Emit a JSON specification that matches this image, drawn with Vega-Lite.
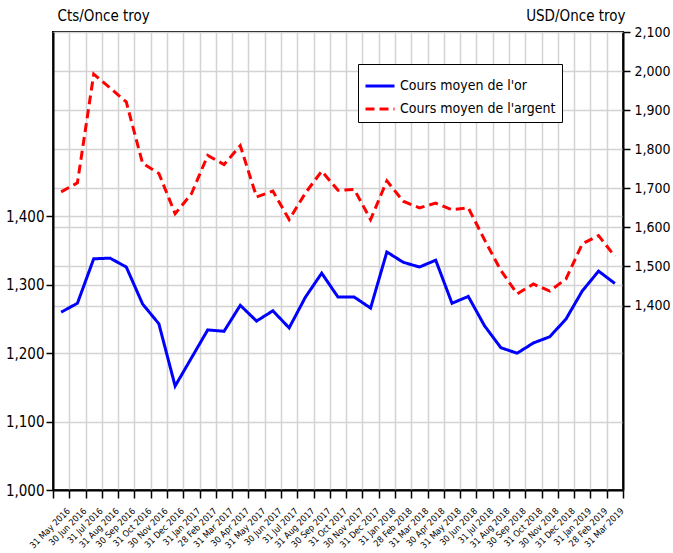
{
  "$schema": "https://vega.github.io/schema/vega-lite/v6.json",
  "width": 570,
  "height": 458,
  "autosize": {"type": "none"},
  "padding": {"left": 53, "top": 32, "right": 50, "bottom": 63},
  "background": "white",
  "config": {
    "font": "'DejaVu Sans Condensed', 'Liberation Sans'",
    "view": {"stroke": "black", "strokeWidth": 2},
    "axis": {
      "domainColor": "black",
      "domainWidth": 2,
      "tickColor": "black",
      "tickWidth": 1.5,
      "gridColor": "#d3d3d3",
      "gridWidth": 1.5,
      "labelColor": "black",
      "titleColor": "black",
      "labelFont": "'DejaVu Sans Condensed', 'Liberation Sans'",
      "titleFont": "'DejaVu Sans Condensed', 'Liberation Sans'"
    },
    "legend": {"labelFont": "'DejaVu Sans Condensed', 'Liberation Sans'"}
  },
  "data": {
    "values": [
      {"date": "31 May 2016", "serie": "Cours moyen de l'or", "value": 1260},
      {"date": "30 Jun 2016", "serie": "Cours moyen de l'or", "value": 1273},
      {"date": "31 Jul 2016", "serie": "Cours moyen de l'or", "value": 1338},
      {"date": "31 Aug 2016", "serie": "Cours moyen de l'or", "value": 1339},
      {"date": "30 Sep 2016", "serie": "Cours moyen de l'or", "value": 1326},
      {"date": "31 Oct 2016", "serie": "Cours moyen de l'or", "value": 1272},
      {"date": "30 Nov 2016", "serie": "Cours moyen de l'or", "value": 1243},
      {"date": "31 Dec 2016", "serie": "Cours moyen de l'or", "value": 1152},
      {"date": "31 Jan 2017", "serie": "Cours moyen de l'or", "value": 1193},
      {"date": "28 Feb 2017", "serie": "Cours moyen de l'or", "value": 1234},
      {"date": "31 Mar 2017", "serie": "Cours moyen de l'or", "value": 1232},
      {"date": "30 Apr 2017", "serie": "Cours moyen de l'or", "value": 1270},
      {"date": "31 May 2017", "serie": "Cours moyen de l'or", "value": 1247},
      {"date": "30 Jun 2017", "serie": "Cours moyen de l'or", "value": 1262},
      {"date": "31 Jul 2017", "serie": "Cours moyen de l'or", "value": 1237},
      {"date": "31 Aug 2017", "serie": "Cours moyen de l'or", "value": 1282},
      {"date": "30 Sep 2017", "serie": "Cours moyen de l'or", "value": 1317},
      {"date": "31 Oct 2017", "serie": "Cours moyen de l'or", "value": 1282},
      {"date": "30 Nov 2017", "serie": "Cours moyen de l'or", "value": 1282},
      {"date": "31 Dec 2017", "serie": "Cours moyen de l'or", "value": 1266},
      {"date": "31 Jan 2018", "serie": "Cours moyen de l'or", "value": 1348},
      {"date": "28 Feb 2018", "serie": "Cours moyen de l'or", "value": 1333},
      {"date": "31 Mar 2018", "serie": "Cours moyen de l'or", "value": 1326},
      {"date": "30 Apr 2018", "serie": "Cours moyen de l'or", "value": 1336},
      {"date": "31 May 2018", "serie": "Cours moyen de l'or", "value": 1273},
      {"date": "30 Jun 2018", "serie": "Cours moyen de l'or", "value": 1283},
      {"date": "31 Jul 2018", "serie": "Cours moyen de l'or", "value": 1240},
      {"date": "31 Aug 2018", "serie": "Cours moyen de l'or", "value": 1208},
      {"date": "30 Sep 2018", "serie": "Cours moyen de l'or", "value": 1200},
      {"date": "31 Oct 2018", "serie": "Cours moyen de l'or", "value": 1215},
      {"date": "30 Nov 2018", "serie": "Cours moyen de l'or", "value": 1224},
      {"date": "31 Dec 2018", "serie": "Cours moyen de l'or", "value": 1250},
      {"date": "31 Jan 2019", "serie": "Cours moyen de l'or", "value": 1291},
      {"date": "28 Feb 2019", "serie": "Cours moyen de l'or", "value": 1320},
      {"date": "31 Mar 2019", "serie": "Cours moyen de l'or", "value": 1302},
      {"date": "31 May 2016", "serie": "Cours moyen de l'argent", "value": 1691},
      {"date": "30 Jun 2016", "serie": "Cours moyen de l'argent", "value": 1714},
      {"date": "31 Jul 2016", "serie": "Cours moyen de l'argent", "value": 1992},
      {"date": "31 Aug 2016", "serie": "Cours moyen de l'argent", "value": 1957},
      {"date": "30 Sep 2016", "serie": "Cours moyen de l'argent", "value": 1921},
      {"date": "31 Oct 2016", "serie": "Cours moyen de l'argent", "value": 1764},
      {"date": "30 Nov 2016", "serie": "Cours moyen de l'argent", "value": 1738},
      {"date": "31 Dec 2016", "serie": "Cours moyen de l'argent", "value": 1635},
      {"date": "31 Jan 2017", "serie": "Cours moyen de l'argent", "value": 1686},
      {"date": "28 Feb 2017", "serie": "Cours moyen de l'argent", "value": 1784},
      {"date": "31 Mar 2017", "serie": "Cours moyen de l'argent", "value": 1761},
      {"date": "30 Apr 2017", "serie": "Cours moyen de l'argent", "value": 1809},
      {"date": "31 May 2017", "serie": "Cours moyen de l'argent", "value": 1678},
      {"date": "30 Jun 2017", "serie": "Cours moyen de l'argent", "value": 1693},
      {"date": "31 Jul 2017", "serie": "Cours moyen de l'argent", "value": 1620},
      {"date": "31 Aug 2017", "serie": "Cours moyen de l'argent", "value": 1688},
      {"date": "30 Sep 2017", "serie": "Cours moyen de l'argent", "value": 1744},
      {"date": "31 Oct 2017", "serie": "Cours moyen de l'argent", "value": 1695},
      {"date": "30 Nov 2017", "serie": "Cours moyen de l'argent", "value": 1697},
      {"date": "31 Dec 2017", "serie": "Cours moyen de l'argent", "value": 1620},
      {"date": "31 Jan 2018", "serie": "Cours moyen de l'argent", "value": 1719},
      {"date": "28 Feb 2018", "serie": "Cours moyen de l'argent", "value": 1667},
      {"date": "31 Mar 2018", "serie": "Cours moyen de l'argent", "value": 1650},
      {"date": "30 Apr 2018", "serie": "Cours moyen de l'argent", "value": 1662},
      {"date": "31 May 2018", "serie": "Cours moyen de l'argent", "value": 1645},
      {"date": "30 Jun 2018", "serie": "Cours moyen de l'argent", "value": 1650},
      {"date": "31 Jul 2018", "serie": "Cours moyen de l'argent", "value": 1568},
      {"date": "31 Aug 2018", "serie": "Cours moyen de l'argent", "value": 1490},
      {"date": "30 Sep 2018", "serie": "Cours moyen de l'argent", "value": 1430},
      {"date": "31 Oct 2018", "serie": "Cours moyen de l'argent", "value": 1455},
      {"date": "30 Nov 2018", "serie": "Cours moyen de l'argent", "value": 1437},
      {"date": "31 Dec 2018", "serie": "Cours moyen de l'argent", "value": 1468},
      {"date": "31 Jan 2019", "serie": "Cours moyen de l'argent", "value": 1558},
      {"date": "28 Feb 2019", "serie": "Cours moyen de l'argent", "value": 1579},
      {"date": "31 Mar 2019", "serie": "Cours moyen de l'argent", "value": 1526}
    ]
  },
  "encoding": {
    "x": {
      "field": "date",
      "type": "nominal",
      "sort": null,
      "scale": {"paddingInner": 0, "paddingOuter": 0},
      "axis": {
        "title": null,
        "labelAngle": -45,
        "labelAlign": "right",
        "labelBaseline": "middle",
        "labelFontSize": 9,
        "labelOffset": 7,
        "labelPadding": 11,
        "tickBand": "extent",
        "tickSize": 8,
        "grid": true,
        "domain": true
      }
    },
    "color": {
      "field": "serie",
      "type": "nominal",
      "scale": {
        "domain": ["Cours moyen de l'or", "Cours moyen de l'argent"],
        "range": ["#0000ff", "#ff0000"]
      },
      "legend": {
        "title": null,
        "orient": "none",
        "legendX": 305,
        "legendY": 32,
        "fillColor": "white",
        "strokeColor": "black",
        "padding": 6,
        "labelFontSize": 14,
        "labelLimit": 300,
        "labelColor": "black",
        "symbolType": "stroke",
        "symbolSize": 841,
        "symbolStrokeWidth": 3,
        "rowPadding": -9,
        "labelOffset": 4
      }
    },
    "strokeDash": {
      "field": "serie",
      "type": "nominal",
      "scale": {
        "domain": ["Cours moyen de l'or", "Cours moyen de l'argent"],
        "range": [[1, 0], [9, 5]]
      },
      "legend": {
        "title": null,
        "orient": "none",
        "legendX": 305,
        "legendY": 32,
        "fillColor": "white",
        "strokeColor": "black",
        "padding": 6,
        "labelFontSize": 14,
        "labelLimit": 300,
        "labelColor": "black",
        "symbolType": "stroke",
        "symbolSize": 841,
        "symbolStrokeWidth": 3,
        "rowPadding": -9,
        "labelOffset": 4
      }
    }
  },
  "layer": [
    {
      "transform": [{"filter": {"field": "serie", "equal": "Cours moyen de l'or"}}],
      "mark": {"type": "line", "strokeWidth": 3},
      "encoding": {
        "y": {
          "field": "value",
          "type": "quantitative",
          "scale": {"domain": [1000, 1669.6], "nice": false, "zero": false},
          "axis": {
            "orient": "left",
            "values": [1000, 1100, 1200, 1300, 1400],
            "format": ",d",
            "labelFontSize": 15,
            "tickSize": 7,
            "labelPadding": 2,
            "grid": true,
            "title": "Cts/Once troy",
            "titleAngle": 0,
            "titleAlign": "left",
            "titleBaseline": "alphabetic",
            "titleFontSize": 15,
            "titleFontWeight": "normal",
            "titleX": 4,
            "titleY": -12
          }
        }
      }
    },
    {
      "transform": [{"filter": {"field": "serie", "equal": "Cours moyen de l'argent"}}],
      "mark": {"type": "line", "strokeWidth": 3},
      "encoding": {
        "y": {
          "field": "value",
          "type": "quantitative",
          "scale": {"domain": [928, 2100], "nice": false, "zero": false},
          "axis": {
            "orient": "right",
            "values": [1400, 1500, 1600, 1700, 1800, 1900, 2000, 2100],
            "format": ",d",
            "labelFontSize": 14,
            "tickSize": 7,
            "labelPadding": 4,
            "grid": true,
            "title": "USD/Once troy",
            "titleAngle": 0,
            "titleAlign": "right",
            "titleBaseline": "alphabetic",
            "titleFontSize": 15,
            "titleFontWeight": "normal",
            "titleX": 2,
            "titleY": -12
          }
        }
      }
    }
  ],
  "resolve": {"scale": {"y": "independent"}}
}
